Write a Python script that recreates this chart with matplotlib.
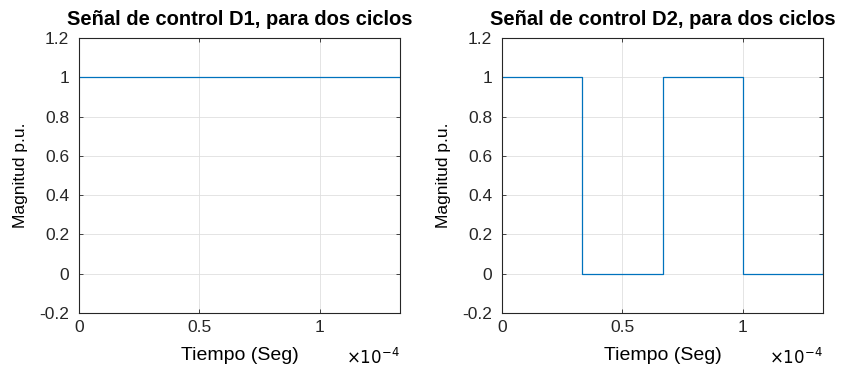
import numpy as np
import matplotlib.pyplot as plt

plt.rcParams['font.family'] = ['Liberation Sans', 'DejaVu Sans']

# datos de las dos senales (tiempo en s, magnitud p.u.)
t_d1 = [0.0, 1.3333e-4]
d1 = [1, 1]

t_d2 = [0.0, 0.3333e-4, 0.3333e-4, 0.6667e-4, 0.6667e-4, 1.0e-4, 1.0e-4, 1.3333e-4, 1.3333e-4]
d2 = [1, 1, 0, 0, 1, 1, 0, 0, 1]

titles = ['Señal de control D1, para dos ciclos', 'Señal de control D2, para dos ciclos']
xticks = [0, 0.5e-4, 1.0e-4]
xtick_labels = ['0', '0.5', '1']
yticks = [-0.2, 0, 0.2, 0.4, 0.6, 0.8, 1, 1.2]
ytick_labels = ['-0.2', '0', '0.2', '0.4', '0.6', '0.8', '1', '1.2']

fig = plt.figure(figsize=(8.46, 3.66), dpi=100)
ax1 = fig.add_axes([0.0934, 0.1448, 0.3794, 0.7514])
ax2 = fig.add_axes([0.5934, 0.1448, 0.3794, 0.7514])

for ax, t, d, title in [(ax1, t_d1, d1, titles[0]), (ax2, t_d2, d2, titles[1])]:
    ax.plot(t, d, color='#0072BD', linewidth=0.9)
    ax.set_xlim(0, 1.3333e-4)
    ax.set_ylim(-0.2, 1.2)
    ax.set_xticks(xticks)
    ax.set_xticklabels(xtick_labels)
    ax.set_yticks(yticks)
    ax.set_yticklabels(ytick_labels)
    ax.tick_params(direction='in', top=True, right=True, labelsize=12.5, length=3, width=0.6, colors='#262626')
    ax.tick_params(axis='x', pad=5)
    ax.tick_params(axis='y', pad=7)
    ax.grid(True, color='#DFDFDF', linewidth=0.6)
    for s in ax.spines.values():
        s.set_linewidth(0.8)
        s.set_color('#262626')
    ax.set_title(title, fontsize=14.5, fontweight='bold', pad=9)
    ax.set_xlabel('Tiempo (Seg)', fontsize=14, labelpad=9)
    ax.set_ylabel('Magnitud p.u.', fontsize=12.5, labelpad=8)
    ax.text(1.0, -0.125, r'$\times10^{-4}$', transform=ax.transAxes, ha='right', va='top', fontsize=12)

fig.savefig('out.png', dpi=100)
